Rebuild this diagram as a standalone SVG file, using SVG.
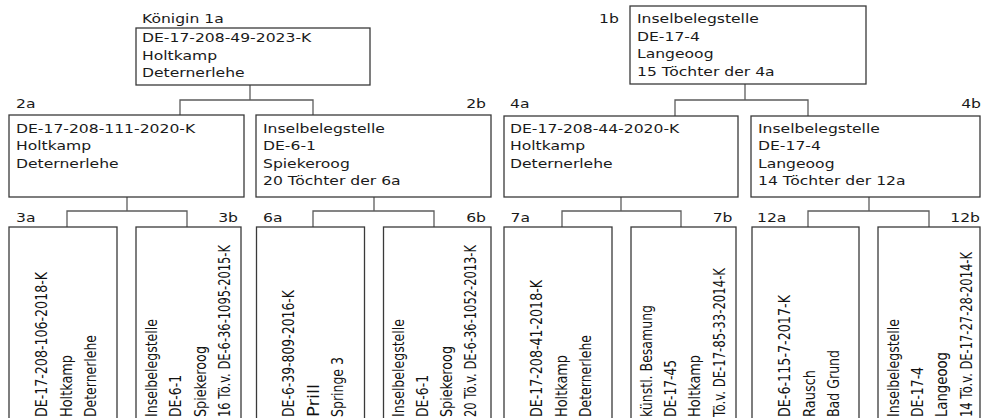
<svg xmlns="http://www.w3.org/2000/svg" width="981" height="418" viewBox="0 0 981 418">
<style>
.bg{fill:#ffffff}
.box{fill:#ffffff;stroke:#3a3a3a;stroke-width:1.3}
.conn{fill:none;stroke:#5c5c5c;stroke-width:1.3}
.t{font-family:'DejaVu Sans','Noto Sans',sans-serif;font-size:13px;fill:#1a1a1a}
.e{text-anchor:end}
.v{font-family:'DejaVu Sans','Noto Sans',sans-serif;font-size:13px;fill:#111111}
</style>
<rect class="bg" x="0" y="0" width="981" height="418"/>

<g id="connectors">
<path class="conn" d="M250,85 V100 M180,115 V100 H313 V115"/>
<path class="conn" d="M745,84 V100 M675,116 V100 H808 V116"/>
<path class="conn" d="M127,197 V211 M67,227 V211 H187 V227"/>
<path class="conn" d="M374,197 V211 M313,227 V211 H434 V227"/>
<path class="conn" d="M621,197 V211 M562,227 V211 H681 V227"/>
<path class="conn" d="M869,197 V211 M808,227 V211 H929 V227"/>
</g>

<g id="node-1a">
<text class="t" transform="translate(142,23) scale(1.2,1)">Königin 1a</text>
<rect class="box" x="136" y="28" width="234" height="57"/>
<text class="t" transform="translate(142,42) scale(1.2,1)">DE-17-208-49-2023-K</text>
<text class="t" transform="translate(142,59.5) scale(1.2,1)">Holtkamp</text>
<text class="t" transform="translate(142,77) scale(1.2,1)">Deternerlehe</text>
</g>

<g id="node-1b">
<text class="t" transform="translate(599,23) scale(1.2,1)">1b</text>
<rect class="box" x="630" y="6" width="236" height="78"/>
<text class="t" transform="translate(637,23) scale(1.2,1)">Inselbelegstelle</text>
<text class="t" transform="translate(637,40.5) scale(1.2,1)">DE-17-4</text>
<text class="t" transform="translate(637,58) scale(1.2,1)">Langeoog</text>
<text class="t" transform="translate(637,75.5) scale(1.2,1)">15 Töchter der 4a</text>
</g>

<g id="node-2a">
<text class="t" transform="translate(16,108) scale(1.2,1)">2a</text>
<rect class="box" x="9" y="115" width="235" height="82"/>
<text class="t" transform="translate(16,132.5) scale(1.2,1)">DE-17-208-111-2020-K</text>
<text class="t" transform="translate(16,150) scale(1.2,1)">Holtkamp</text>
<text class="t" transform="translate(16,167.5) scale(1.2,1)">Deternerlehe</text>
</g>

<g id="node-2b">
<text class="t e" transform="translate(486,108) scale(1.2,1)">2b</text>
<rect class="box" x="256" y="115" width="235" height="82"/>
<text class="t" transform="translate(263,132.5) scale(1.2,1)">Inselbelegstelle</text>
<text class="t" transform="translate(263,150) scale(1.2,1)">DE-6-1</text>
<text class="t" transform="translate(263,167.5) scale(1.2,1)">Spiekeroog</text>
<text class="t" transform="translate(263,185) scale(1.2,1)">20 Töchter der 6a</text>
</g>

<g id="node-4a">
<text class="t" transform="translate(510,108) scale(1.2,1)">4a</text>
<rect class="box" x="504" y="116" width="234" height="81"/>
<text class="t" transform="translate(510,132.5) scale(1.2,1)">DE-17-208-44-2020-K</text>
<text class="t" transform="translate(510,150) scale(1.2,1)">Holtkamp</text>
<text class="t" transform="translate(510,167.5) scale(1.2,1)">Deternerlehe</text>
</g>

<g id="node-4b">
<text class="t e" transform="translate(981,108) scale(1.2,1)">4b</text>
<rect class="box" x="751" y="116" width="229" height="81"/>
<text class="t" transform="translate(758,132.5) scale(1.2,1)">Inselbelegstelle</text>
<text class="t" transform="translate(758,150) scale(1.2,1)">DE-17-4</text>
<text class="t" transform="translate(758,167.5) scale(1.2,1)">Langeoog</text>
<text class="t" transform="translate(758,185) scale(1.2,1)">14 Töchter der 12a</text>
</g>

<g id="node-3a">
<text class="t" transform="translate(16,222) scale(1.2,1)">3a</text>
<rect class="box" x="9" y="227" width="108" height="200"/>
<text class="v" transform="translate(47,417) scale(1.2,1) rotate(-90)" textLength="145" lengthAdjust="spacingAndGlyphs">DE-17-208-106-2018-K</text>
<text class="v" transform="translate(71.7,417) scale(1.2,1) rotate(-90)" textLength="62" lengthAdjust="spacingAndGlyphs">Holtkamp</text>
<text class="v" transform="translate(96.4,417) scale(1.2,1) rotate(-90)" textLength="82" lengthAdjust="spacingAndGlyphs">Deternerlehe</text>
</g>

<g id="node-3b">
<text class="t e" transform="translate(238,222) scale(1.2,1)">3b</text>
<rect class="box" x="136" y="227" width="105" height="200"/>
<text class="v" transform="translate(156.7,417) scale(1.2,1) rotate(-90)" textLength="98" lengthAdjust="spacingAndGlyphs">Inselbelegstelle</text>
<text class="v" transform="translate(181.1,417) scale(1.2,1) rotate(-90)" textLength="42" lengthAdjust="spacingAndGlyphs">DE-6-1</text>
<text class="v" transform="translate(205.5,417) scale(1.2,1) rotate(-90)" textLength="71" lengthAdjust="spacingAndGlyphs">Spiekeroog</text>
<text class="v" transform="translate(229.9,417) scale(1.2,1) rotate(-90)" textLength="172" lengthAdjust="spacingAndGlyphs">16 Tö.v. DE-6-36-1095-2015-K</text>
</g>

<g id="node-6a">
<text class="t" transform="translate(263,222) scale(1.2,1)">6a</text>
<rect class="box" x="256.5" y="227" width="108" height="200"/>
<text class="v" transform="translate(294,417) scale(1.2,1) rotate(-90)" textLength="127" lengthAdjust="spacingAndGlyphs">DE-6-39-809-2016-K</text>
<text class="v" transform="translate(318.7,417) scale(1.2,1) rotate(-90)" textLength="33" lengthAdjust="spacingAndGlyphs">Prill</text>
<text class="v" transform="translate(343.4,417) scale(1.2,1) rotate(-90)" textLength="60" lengthAdjust="spacingAndGlyphs">Springe 3</text>
</g>

<g id="node-6b">
<text class="t e" transform="translate(486,222) scale(1.2,1)">6b</text>
<rect class="box" x="383.5" y="227" width="107.5" height="200"/>
<text class="v" transform="translate(403.5,417) scale(1.2,1) rotate(-90)" textLength="98" lengthAdjust="spacingAndGlyphs">Inselbelegstelle</text>
<text class="v" transform="translate(427.5,417) scale(1.2,1) rotate(-90)" textLength="42" lengthAdjust="spacingAndGlyphs">DE-6-1</text>
<text class="v" transform="translate(451.5,417) scale(1.2,1) rotate(-90)" textLength="71" lengthAdjust="spacingAndGlyphs">Spiekeroog</text>
<text class="v" transform="translate(475.5,417) scale(1.2,1) rotate(-90)" textLength="172" lengthAdjust="spacingAndGlyphs">20 Tö.v. DE-6-36-1052-2013-K</text>
</g>

<g id="node-7a">
<text class="t" transform="translate(510.5,222) scale(1.2,1)">7a</text>
<rect class="box" x="504" y="227" width="108" height="200"/>
<text class="v" transform="translate(542,417) scale(1.2,1) rotate(-90)" textLength="137" lengthAdjust="spacingAndGlyphs">DE-17-208-41-2018-K</text>
<text class="v" transform="translate(566.7,417) scale(1.2,1) rotate(-90)" textLength="62" lengthAdjust="spacingAndGlyphs">Holtkamp</text>
<text class="v" transform="translate(591.4,417) scale(1.2,1) rotate(-90)" textLength="82" lengthAdjust="spacingAndGlyphs">Deternerlehe</text>
</g>

<g id="node-7b">
<text class="t e" transform="translate(732.5,222) scale(1.2,1)">7b</text>
<rect class="box" x="631" y="227" width="105" height="200"/>
<text class="v" transform="translate(651.5,417) scale(1.2,1) rotate(-90)" textLength="112" lengthAdjust="spacingAndGlyphs">künstl. Besamung</text>
<text class="v" transform="translate(676,417) scale(1.2,1) rotate(-90)" textLength="57" lengthAdjust="spacingAndGlyphs">DE-17-45</text>
<text class="v" transform="translate(700.4,417) scale(1.2,1) rotate(-90)" textLength="62" lengthAdjust="spacingAndGlyphs">Holtkamp</text>
<text class="v" transform="translate(724.8,417) scale(1.2,1) rotate(-90)" textLength="149" lengthAdjust="spacingAndGlyphs">Tö.v. DE-17-85-33-2014-K</text>
</g>

<g id="node-12a">
<text class="t" transform="translate(757,222) scale(1.2,1)">12a</text>
<rect class="box" x="752" y="227" width="107" height="200"/>
<text class="v" transform="translate(790,417) scale(1.2,1) rotate(-90)" textLength="122" lengthAdjust="spacingAndGlyphs">DE-6-115-7-2017-K</text>
<text class="v" transform="translate(814.7,417) scale(1.2,1) rotate(-90)" textLength="47" lengthAdjust="spacingAndGlyphs">Rausch</text>
<text class="v" transform="translate(839.4,417) scale(1.2,1) rotate(-90)" textLength="67" lengthAdjust="spacingAndGlyphs">Bad Grund</text>
</g>

<g id="node-12b">
<text class="t e" transform="translate(980,222) scale(1.2,1)">12b</text>
<rect class="box" x="878" y="227" width="102" height="200"/>
<text class="v" transform="translate(898.5,417) scale(1.2,1) rotate(-90)" textLength="98" lengthAdjust="spacingAndGlyphs">Inselbelegstelle</text>
<text class="v" transform="translate(922.9,417) scale(1.2,1) rotate(-90)" textLength="50" lengthAdjust="spacingAndGlyphs">DE-17-4</text>
<text class="v" transform="translate(947.3,417) scale(1.2,1) rotate(-90)" textLength="65" lengthAdjust="spacingAndGlyphs">Langeoog</text>
<text class="v" transform="translate(971.7,417) scale(1.2,1) rotate(-90)" textLength="165" lengthAdjust="spacingAndGlyphs">14 Tö.v. DE-17-27-28-2014-K</text>
</g>
</svg>
